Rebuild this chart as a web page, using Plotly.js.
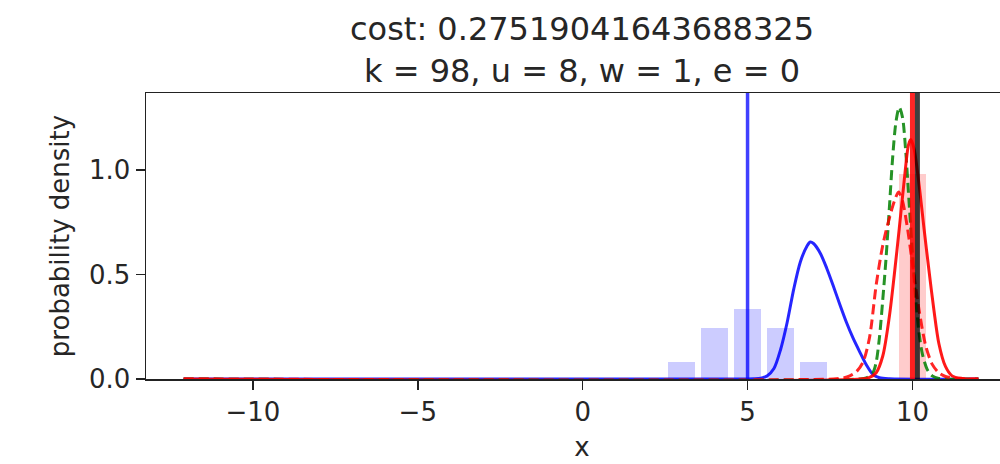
<!DOCTYPE html>
<html>
<head>
<meta charset="utf-8">
<script src="https://cdn.plot.ly/plotly-3.0.1.min.js"></script>
<style>
  html, body { margin: 0; padding: 0; overflow: hidden; background: #fff; }
  #chart { width: 1022px; height: 464px; }
</style>
</head>
<body>
<div id="chart"></div>
<script>
// Histogram of the first sample set (bin centres and densities)
const blueBinCenters = [3, 4, 5, 6, 7];
const blueBinDensity = [0.082, 0.245, 0.337, 0.245, 0.082];

// Histogram of the second sample set
const redBinCenters = [10];
const redBinDensity = [0.98];

// Fitted density, first set (solid blue)
const blueX = [-12.1, 5.0, 5.2, 5.4, 5.6, 5.8, 6.0, 6.2, 6.4, 6.6, 6.8, 6.9, 7.0, 7.2, 7.4, 7.6, 7.8, 8.0, 8.2, 8.4, 8.6, 8.8, 9.0, 9.3, 12.0];
const blueY = [0, 0, 0.001, 0.004, 0.016, 0.05, 0.14, 0.27, 0.43, 0.56, 0.635, 0.655, 0.648, 0.603, 0.53, 0.445, 0.355, 0.27, 0.195, 0.13, 0.068, 0.022, 0.006, 0.001, 0];

// Reference density (dashed green)
const greenX = [-12.1, 8.4, 8.6, 8.8, 8.9, 9.0, 9.1, 9.2, 9.3, 9.4, 9.5, 9.6, 9.7, 9.8, 9.9, 10.0, 10.1, 10.2, 10.3, 10.45, 10.6, 10.8, 12.0];
const greenY = [0, 0, 0.005, 0.03, 0.08, 0.2, 0.38, 0.58, 0.82, 1.06, 1.23, 1.30, 1.25, 1.08, 0.84, 0.6, 0.38, 0.22, 0.12, 0.045, 0.015, 0.003, 0];

// Prior density, second set (dashed red)
const redDashX = [-12.1, 7.6, 7.9, 8.1, 8.3, 8.5, 8.7, 8.9, 9.1, 9.3, 9.45, 9.58, 9.7, 9.85, 10.0, 10.2, 10.4, 10.6, 10.8, 11.0, 11.3, 12.0];
const redDashY = [0, 0, 0.005, 0.015, 0.035, 0.08, 0.2, 0.45, 0.64, 0.77, 0.85, 0.895, 0.85, 0.72, 0.55, 0.33, 0.16, 0.07, 0.03, 0.012, 0.003, 0];

// Fitted density, second set (solid red)
const redX = [-12.1, 8.4, 8.7, 8.9, 9.1, 9.3, 9.45, 9.6, 9.75, 9.88, 9.95, 10.05, 10.2, 10.35, 10.5, 10.65, 10.8, 11.0, 11.2, 11.5, 12.0];
const redY = [0, 0, 0.008, 0.03, 0.11, 0.3, 0.5, 0.72, 0.95, 1.12, 1.145, 1.1, 0.93, 0.72, 0.52, 0.33, 0.17, 0.06, 0.015, 0.003, 0];

// Vertical markers: first-set location, second-set location, true value
const markerX = [5, 10, 10.15];
const markerColor = ['rgba(0,0,255,0.75)', 'rgba(255,0,0,0.85)', 'rgba(0,0,0,0.75)'];
const markerWidth = [3.5, 5, 5];

const xTickVals = [-10, -5, 0, 5, 10];
const xTickText = ['\u221210', '\u22125', '0', '5', '10'];
const yTickVals = [0, 0.5, 1.0];
const yTickText = ['0.0', '0.5', '1.0'];

const FONT = 'DejaVu Sans, sans-serif';
const TXT = '#262626';

const traces = [
  { type: 'bar', x: blueBinCenters, y: blueBinDensity, width: 0.8,
    marker: { color: 'rgba(0,0,255,0.2)', line: { width: 0 } }, hoverinfo: 'skip' },
  { type: 'bar', x: redBinCenters, y: redBinDensity, width: 0.8,
    marker: { color: 'rgba(255,0,0,0.2)', line: { width: 0 } }, hoverinfo: 'skip' },
  { type: 'scatter', mode: 'lines', x: blueX, y: blueY,
    line: { color: 'rgba(0,0,255,0.85)', width: 3, shape: 'spline', smoothing: 0.8 } },
  { type: 'scatter', mode: 'lines', x: greenX, y: greenY,
    line: { color: 'rgba(0,128,0,0.85)', width: 3, dash: '10px,5px', shape: 'spline', smoothing: 0.8 } },
  { type: 'scatter', mode: 'lines', x: redDashX, y: redDashY,
    line: { color: 'rgba(255,0,0,0.85)', width: 3, dash: '10px,5px', shape: 'spline', smoothing: 0.8 } },
  { type: 'scatter', mode: 'lines', x: redX, y: redY,
    line: { color: 'rgba(255,0,0,0.9)', width: 3, shape: 'spline', smoothing: 0.8 } }
];

const shapes = markerX.map((v, i) => ({
  type: 'line', xref: 'x', yref: 'paper', x0: v, x1: v, y0: 0, y1: 1,
  line: { color: markerColor[i], width: markerWidth[i] }, layer: 'above'
}));

const layout = {
  width: 1022, height: 464,
  margin: { l: 146, r: 4, t: 93, b: 85 },
  paper_bgcolor: '#fff', plot_bgcolor: '#fff',
  showlegend: false, barmode: 'overlay', bargap: 0,
  font: { family: FONT, color: TXT, size: 26 },
  title: {
    text: 'cost: 0.27519041643688325<br>k = 98, u = 8, w = 1, e = 0',
    font: { family: FONT, size: 32, color: TXT },
    x: 0.5, xref: 'paper', xanchor: 'center',
    y: 1 - 40 / 464, yref: 'container', yanchor: 'top'
  },
  xaxis: {
    range: [-13.24, 13.2], showgrid: false, zeroline: false,
    showline: true, linecolor: '#222', linewidth: 1.5, mirror: true,
    ticks: 'outside', ticklen: 9, tickwidth: 1.5, tickcolor: '#222',
    tickvals: xTickVals, ticktext: xTickText,
    tickfont: { family: FONT, size: 26, color: TXT },
    title: { text: 'x', font: { family: FONT, size: 26, color: TXT }, standoff: 12 }
  },
  yaxis: {
    range: [0, 1.368], showgrid: false, zeroline: false,
    showline: true, linecolor: '#222', linewidth: 1.5, mirror: true,
    ticks: 'outside', ticklen: 9, tickwidth: 1.5, tickcolor: '#222',
    tickvals: yTickVals, ticktext: yTickText,
    tickfont: { family: FONT, size: 26, color: TXT },
    title: { text: 'probability density', font: { family: FONT, size: 26, color: TXT }, standoff: 12 }
  },
  shapes: shapes
};

Plotly.newPlot('chart', traces, layout, { staticPlot: true, displayModeBar: false });
</script>
</body>
</html>
